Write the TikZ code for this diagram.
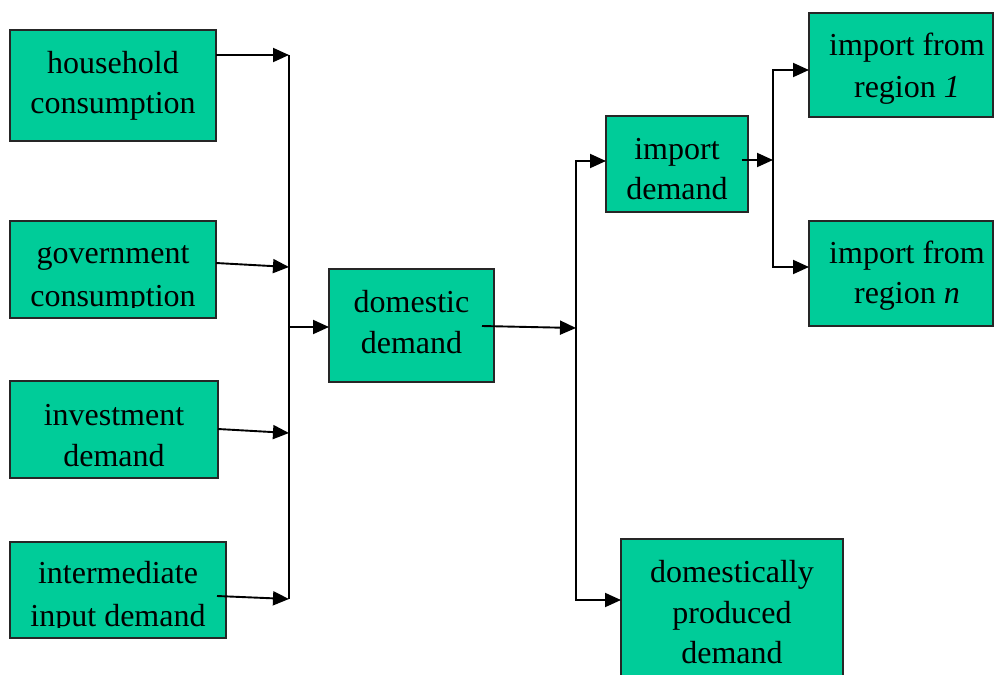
\documentclass[tikz,border=0pt]{standalone}
\usepackage{fontspec}
\setmainfont{Liberation Serif}
\usetikzlibrary{arrows.meta}
\definecolor{boxgreen}{HTML}{00CC99}
\newcommand\boxline[3]{\node[ln] at ([shift={(#1,#2)}]path picture bounding box.north west) {#3};}
\newcommand\boxclip[2]{\clip (path picture bounding box.north west) rectangle ([shift={(#1,#2)}]path picture bounding box.north west);}
\begin{document}
\begin{tikzpicture}[x=1pt,y=-1pt,
  box/.style={draw=black!85, line width=1.5pt, fill=boxgreen, anchor=north west, inner sep=0pt, outer sep=0pt},
  ln/.style={anchor=base, inner sep=0pt, font=\fontsize{32}{38}\selectfont},
  conn/.style={line width=1.9pt, -{Triangle[length=16pt,width=14pt]}},
  bus/.style={line width=1.9pt}]
\useasboundingbox (0,0) rectangle (994,675);

% boxes
\node[box, minimum width=206pt, minimum height=111pt, path picture={
  \boxline{103}{43}{household}
  \boxline{103}{83}{consumption}}] (hh) at (10,30) {};
\node[box, minimum width=206pt, minimum height=97pt, path picture={
  \boxclip{206}{86}
  \boxline{103}{42}{government}
  \boxline{103}{85}{consumption}}] (gov) at (10,221) {};
\node[box, minimum width=208pt, minimum height=97pt, path picture={
  \boxline{104}{44}{investment}
  \boxline{104}{85}{demand}}] (inv) at (10,381) {};
\node[box, minimum width=216pt, minimum height=96pt, path picture={
  \boxclip{216}{85}
  \boxline{108}{41}{intermediate}
  \boxline{108}{84}{input demand}}] (int) at (10,542) {};
\node[box, minimum width=165pt, minimum height=113pt, path picture={
  \boxline{82.5}{43}{domestic}
  \boxline{82.5}{84}{demand}}] (dom) at (329,269) {};
\node[box, minimum width=142pt, minimum height=96pt, path picture={
  \boxline{71}{43}{import}
  \boxline{71}{83}{demand}}] (imp) at (606,116) {};
\node[box, minimum width=184pt, minimum height=104pt, path picture={
  \boxline{98}{42}{import from}
  \boxline{98}{84}{region \textit{1}}}] (r1) at (809,13) {};
\node[box, minimum width=184pt, minimum height=105pt, path picture={
  \boxline{98}{42}{import from}
  \boxline{98}{82}{region \textit{n}}}] (rn) at (809,221) {};
\node[box, minimum width=222pt, minimum height=150pt, path picture={
  \boxline{111}{43}{domestically}
  \boxline{111}{84}{produced}
  \boxline{111}{124}{demand}}] (dp) at (621,539) {};

% bus points
\coordinate (b1t) at (289,55);
\coordinate (b1g) at (289,267);
\coordinate (b1m) at (289,327);
\coordinate (b1i) at (289,433);
\coordinate (b1b) at (289,599);
\coordinate (b2t) at (576,161);
\coordinate (b2m) at (576,328);
\coordinate (b2b) at (576,600);
\coordinate (b3t) at (773,70);
\coordinate (b3m) at (773,160);
\coordinate (b3b) at (773,267);

% connectors
\draw[bus] (b1t) -- (b1b);
\draw[conn] ([yshift=-25pt]hh.north east) -- (b1t);
\draw[conn] ([yshift=-42pt]gov.north east) -- (b1g);
\draw[conn] ([yshift=-48pt]inv.north east) -- (b1i);
\draw[conn] ([xshift=-9pt,yshift=-54pt]int.north east) -- (b1b);
\draw[conn] (b1m) -- (b1m -| dom.west);
\draw[conn] ([xshift=-12pt,yshift=-57pt]dom.north east) -- (b2m);
\draw[conn] (b2b) -- (b2t) -- (b2t -| imp.west);
\draw[conn] (b2t) -- (b2b) -- (b2b -| dp.west);
\draw[conn] ([xshift=-6pt,yshift=-44pt]imp.north east) -- (b3m);
\draw[conn] (b3b) -- (b3t) -- (b3t -| r1.west);
\draw[conn] (b3t) -- (b3b) -- (b3b -| rn.west);
\end{tikzpicture}
\end{document}
